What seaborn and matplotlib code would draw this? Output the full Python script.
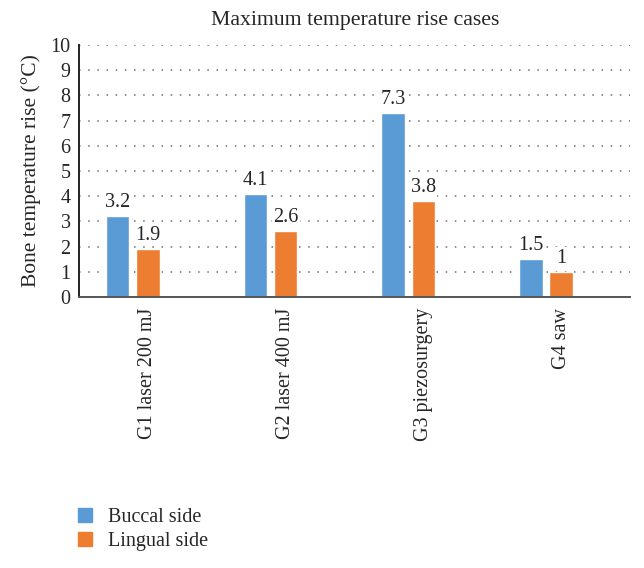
import matplotlib
matplotlib.use("Agg")
import matplotlib.pyplot as plt
from matplotlib.patches import Patch
import pandas as pd
import seaborn as sns

# values
groups = ["G1 laser 200 mJ", "G2 laser 400 mJ", "G3 piezosurgery", "G4 saw"]
buccal = [3.2, 4.1, 7.3, 1.5]
lingual = [1.9, 2.6, 3.8, 1.0]
series = ["Buccal side", "Lingual side"]
colors = {"Buccal side": "#5B9BD5", "Lingual side": "#ED7D31", "_empty": "#FFFFFF"}

data = pd.DataFrame({
    "group": groups * 2,
    "side": [series[0]] * 4 + [series[1]] * 4,
    "value": buccal + lingual,
})

sns.set_style("white")
plt.rcParams["font.family"] = ["Liberation Serif", "DejaVu Serif"]

fig = plt.figure(figsize=(6.44, 5.68), dpi=100)
ax = fig.add_axes([79 / 644, 1 - 297 / 568, 551 / 644, 252 / 568])

# the original Excel chart has an empty third series, which shifts bars left
sns.barplot(data=data, x="group", y="value", hue="side",
            hue_order=series + ["_empty"], palette=colors,
            width=0.66, gap=0.22, ax=ax, legend=False, saturation=1)

for c in ax.containers:
    labels = ax.bar_label(c, fmt="{:g}", padding=3, fontsize=14.5)
    for t in labels:
        t.set_bbox(dict(facecolor="white", edgecolor="none", pad=1))

ax.set_ylim(0, 10)
ax.set_xlim(-0.5, 3.5)
ax.set_yticks(range(0, 11))
ax.tick_params(axis="y", labelsize=14.5, length=0, pad=6)
ax.tick_params(axis="x", labelsize=14.5, length=0, pad=8, labelrotation=90)
for lab in ax.get_xticklabels():
    lab.set_verticalalignment("top")
ax.set_xlabel("")
ax.set_ylabel("Bone temperature rise (°C)", fontsize=15.5, labelpad=7)

for y in range(1, 11):
    ax.axhline(y, color="#6e6e6e", lw=1.1, ls=(0, (1, 5)), zorder=0)

for s in ["top", "right"]:
    ax.spines[s].set_visible(False)
ax.spines["left"].set_color("#222222")
ax.spines["left"].set_linewidth(1.4)
ax.spines["bottom"].set_color("#555555")
ax.spines["bottom"].set_linewidth(1.4)

fig.text(355 / 644, 1 - 20 / 568, "Maximum temperature rise cases",
         ha="center", va="center", fontsize=15.7)

handles = [Patch(color=colors[s], label=s) for s in series]
fig.legend(handles=handles, loc="upper left", bbox_to_anchor=(70 / 644, 1 - 500 / 568),
           frameon=False, fontsize=14.5, handlelength=0.7, handleheight=0.7,
           handletextpad=0.8, labelspacing=0.25, borderaxespad=0)

fig.savefig("out.png", dpi=100)
